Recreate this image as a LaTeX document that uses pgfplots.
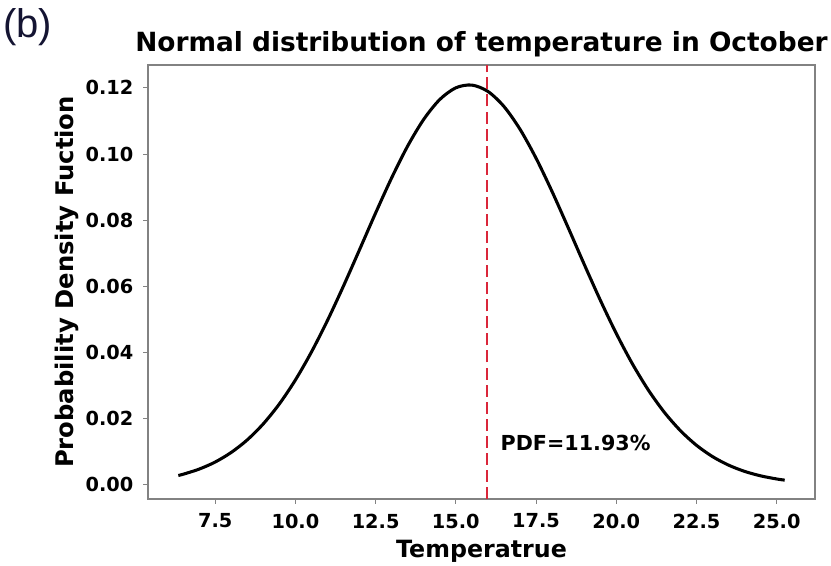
\documentclass[border=0pt]{standalone}
\usepackage{pgfplots}
\pgfplotsset{compat=1.18}
\usepackage{fontspec}
\setmainfont{DejaVu Sans}
\newfontfamily\arialfont{Liberation Sans}
\definecolor{frame}{RGB}{130,130,130}
\definecolor{vred}{RGB}{218,38,58}
\definecolor{navy}{RGB}{20,20,50}
\begin{document}
\begin{tikzpicture}
\begin{axis}[
  scale only axis,
  width=500.25pt, height=325.5pt,
  xmin=5.405, xmax=26.195,
  ymin=-0.0043, ymax=0.1269,
  xtick={7.5,10,12.5,15,17.5,20,22.5,25},
  ytick={0,0.02,0.04,0.06,0.08,0.10,0.12},
  xticklabel style={/pgf/number format/.cd,fixed,fixed zerofill,precision=1},
  yticklabel style={/pgf/number format/.cd,fixed,fixed zerofill,precision=2},
  /pgf/number format/assume math mode=true,
  scaled y ticks=false,
  ticklabel style={font=\fontsize{14.5}{16}\selectfont\bfseries},
  xtick pos=bottom, ytick pos=left,
  tick align=outside,
  major tick length=3.5pt,
  every tick/.style={frame, line width=0.6pt},
  axis line style={frame, line width=0.9pt},
  xticklabel shift=4pt,
  yticklabel shift=4pt,
  clip=false,
]
\addplot[black, line width=2.3pt, smooth] coordinates {
(6.35,0.002814) (6.5,0.003184) (7.0,0.004735) (7.5,0.006882) (8.0,0.009784)
(8.5,0.013582) (9.0,0.018439) (9.5,0.024450) (10.0,0.031691) (10.5,0.040148)
(11.0,0.049698) (11.5,0.060134) (12.0,0.071103) (12.5,0.082170) (13.0,0.092793)
(13.5,0.102429) (14.0,0.110485) (14.5,0.116476) (15.0,0.120005)
(15.5,0.120834) (16.0,0.118908) (16.5,0.114357) (17.0,0.107483) (17.5,0.098732)
(18.0,0.088634) (18.5,0.077763) (19.0,0.066675) (19.5,0.055874) (20.0,0.045759)
(20.5,0.036622) (21.0,0.028643) (21.5,0.021896) (22.0,0.016361) (22.5,0.011946)
(23.0,0.008525) (23.5,0.005946) (24.0,0.004052) (24.5,0.002698) (25.0,0.001757)
(25.25,0.001405)
};
\addplot[vred, line width=1.6pt, dash pattern=on 9pt off 3.8pt] coordinates {(15.96,-0.0043) (15.96,0.1269)};
\node[anchor=base west, font=\fontsize{15.5}{17}\selectfont\bfseries] at (axis cs:16.25,0.0105) {PDF=11.93\%};
\node[anchor=base, font=\fontsize{19.8}{22}\selectfont\bfseries] at ([yshift=9.75pt]rel axis cs:0.5,1) {Normal distribution of temperature in October};
\node[anchor=base, font=\fontsize{17.8}{20}\selectfont\bfseries] at ([yshift=-43.5pt]rel axis cs:0.5,0) {Temperatrue};
\node[anchor=base, rotate=90, font=\fontsize{18.2}{20}\selectfont\bfseries] at ([xshift=-55.5pt]rel axis cs:0,0.5) {Probability Density Fuction};
\node[anchor=base west, inner sep=0pt, text=navy, font=\arialfont\fontsize{30}{34}\selectfont] at ([xshift=-108.75pt,yshift=345.75pt]rel axis cs:0,0) {(b)};
\end{axis}
\pgfresetboundingbox
\path (-111pt,-49.5pt) rectangle (512.25pt,374.25pt);
\end{tikzpicture}
\end{document}
